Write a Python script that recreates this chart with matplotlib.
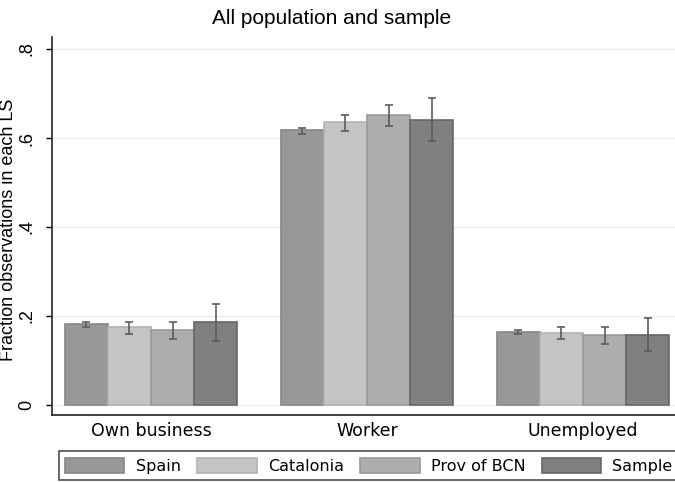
import numpy as np
import matplotlib
matplotlib.use("Agg")
import matplotlib.pyplot as plt

# values
groups = ["Own business", "Worker", "Unemployed"]
series = ["Spain", "Catalonia", "Prov of BCN", "Sample"]
means = {
    "Spain":       [0.183, 0.617, 0.164],
    "Catalonia":   [0.175, 0.635, 0.161],
    "Prov of BCN": [0.168, 0.651, 0.157],
    "Sample":      [0.187, 0.640, 0.157],
}
lower = {
    "Spain":       [0.175, 0.609, 0.160],
    "Catalonia":   [0.160, 0.616, 0.148],
    "Prov of BCN": [0.148, 0.627, 0.137],
    "Sample":      [0.144, 0.593, 0.121],
}
upper = {
    "Spain":       [0.187, 0.622, 0.168],
    "Catalonia":   [0.187, 0.652, 0.176],
    "Prov of BCN": [0.187, 0.674, 0.176],
    "Sample":      [0.226, 0.689, 0.195],
}
yticks = [0, 0.2, 0.4, 0.6, 0.8]
ytick_labels = ["0", ".2", ".4", ".6", ".8"]

colors = ["#989898", "#c4c4c4", "#adadad", "#808080"]
edges = ["#858585", "#b2b2b2", "#9a9a9a", "#666666"]

plt.rcParams['font.family'] = ['Liberation Sans', 'DejaVu Sans']

fig = plt.figure(figsize=(6.75, 4.82), dpi=100)
ax = fig.add_axes([52 / 675, 1 - 415 / 482, 1 - 52 / 675, (415 - 37) / 482])

x = np.arange(len(groups))
width = 0.2
offsets = [-0.3, -0.1, 0.1, 0.3]
handles = []
for i, s in enumerate(series):
    m = np.array(means[s])
    err = np.vstack([m - np.array(lower[s]), np.array(upper[s]) - m])
    b = ax.bar(x + offsets[i], m, width, color=colors[i], edgecolor=edges[i],
               linewidth=1.2, zorder=2, label=s)
    ax.errorbar(x + offsets[i], m, yerr=err, fmt="none", ecolor="#5c5c5c",
                elinewidth=1.2, capsize=3, capthick=1.2, zorder=3)
    handles.append(b)

ax.set_xlim(-0.458, 2.426)
ax.set_ylim(-0.0225, 0.827)
ax.set_yticks(yticks)
ax.set_yticklabels(ytick_labels, rotation=90, va="center", fontsize=13)
ax.set_xticks(x)
ax.set_xticklabels(groups, fontsize=12.5, family=['DejaVu Sans'])
ax.tick_params(axis="x", length=0, pad=5)
ax.tick_params(axis="y", length=4, width=1, pad=8)
ax.grid(axis="y", color="#ececec", linewidth=1, zorder=0)
ax.set_axisbelow(True)
for sp in ["top", "right"]:
    ax.spines[sp].set_visible(False)
for sp in ["left", "bottom"]:
    ax.spines[sp].set_linewidth(1.2)
    ax.spines[sp].set_color("#222222")

ax.set_ylabel("Fraction observations in each LS", fontsize=13)
ax.yaxis.set_label_coords(-0.056, 0.49)
fig.text(332 / 675, 1 - 19 / 482, "All population and sample", ha="center",
         va="center", fontsize=15)

leg = fig.legend(handles=handles, labels=series, loc="lower left", ncol=4,
                 bbox_to_anchor=(59 / 675, 2 / 482, 620 / 675, 32 / 482),
                 mode="expand", borderaxespad=0,
                 handlelength=3.7, handleheight=1.1, handletextpad=0.7,
                 fancybox=False, frameon=True,
                 prop={'family': 'DejaVu Sans', 'size': 11.5})
leg.get_frame().set_edgecolor("#222222")
leg.get_frame().set_linewidth(1.2)

fig.savefig("out.png", dpi=100)
